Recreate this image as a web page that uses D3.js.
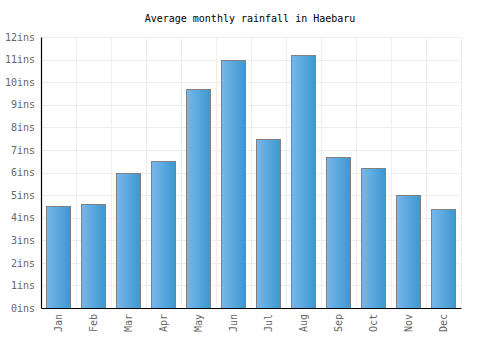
<!DOCTYPE html>
<html>
<head>
<meta charset="utf-8">
<script src="https://cdn.jsdelivr.net/npm/d3@7"></script>
<style>
  body { margin: 0; background: #fff; }
  text { font-family: "DejaVu Sans Mono", monospace; }
</style>
</head>
<body>
<div id="chart"></div>
<script>
const title = "Average monthly rainfall in Haebaru";
const months = ["Jan", "Feb", "Mar", "Apr", "May", "Jun", "Jul", "Aug", "Sep", "Oct", "Nov", "Dec"];
const rainfall = [4.5, 4.6, 6.0, 6.5, 9.7, 11.0, 7.5, 11.2, 6.7, 6.2, 5.0, 4.4];
const yTicks = [0, 1, 2, 3, 4, 5, 6, 7, 8, 9, 10, 11, 12];

const W = 500, H = 350;
const margin = { top: 37, right: 39, bottom: 42, left: 41 };
const width = W - margin.left - margin.right;
const height = H - margin.top - margin.bottom;

const svg = d3.select("#chart").append("svg")
  .attr("width", W).attr("height", H);

// bar gradient, lighter on the left
const grad = svg.append("defs").append("linearGradient")
  .attr("id", "barGrad").attr("x1", "0%").attr("x2", "100%");
grad.append("stop").attr("offset", "0%").attr("stop-color", "#78b7eb");
grad.append("stop").attr("offset", "100%").attr("stop-color", "#3b98d0");

svg.append("text")
  .attr("x", W / 2).attr("y", 22)
  .attr("text-anchor", "middle")
  .attr("font-size", "10px")
  .attr("fill", "#000")
  .text(title);

const g = svg.append("g").attr("transform", `translate(${margin.left},${margin.top})`);

const x = d3.scaleBand().domain(months).range([0, width]).paddingInner(0).paddingOuter(0);
const y = d3.scaleLinear().domain([0, 12]).range([height, 0]);

// grid
g.append("g").selectAll("line.h").data(yTicks).join("line")
  .attr("x1", 0).attr("x2", width)
  .attr("y1", d => Math.round(y(d)) + 0.5).attr("y2", d => Math.round(y(d)) + 0.5)
  .attr("stroke", "#eeeeee");
g.append("g").selectAll("line.v").data(months).join("line")
  .attr("x1", (d, i) => Math.round(x.bandwidth() * (i + 1)) + 0.5)
  .attr("x2", (d, i) => Math.round(x.bandwidth() * (i + 1)) + 0.5)
  .attr("y1", 0).attr("y2", height)
  .attr("stroke", "#eeeeee");

// bars
const barW = x.bandwidth() * 0.69;
g.selectAll("rect.bar").data(rainfall).join("rect")
  .attr("class", "bar")
  .attr("x", (d, i) => Math.round(x(months[i]) + (x.bandwidth() - barW) / 2) + 0.5)
  .attr("y", d => Math.round(y(d)) + 0.5)
  .attr("width", Math.round(barW))
  .attr("height", d => height - Math.round(y(d)))
  .attr("fill", "url(#barGrad)")
  .attr("stroke", "#808080")
  .attr("stroke-width", 1);

// y axis
const yAxis = g.append("g")
  .call(d3.axisLeft(y).tickValues(yTicks).tickSize(0).tickPadding(6).tickFormat(d => d + "ins"));
yAxis.select(".domain").attr("stroke", "#000").attr("stroke-width", 1.2);
yAxis.selectAll("text").attr("font-size", "10px").attr("fill", "#666")
  .attr("font-family", "DejaVu Sans Mono, monospace");

// x axis
const xAxis = g.append("g").attr("transform", `translate(0,${height})`)
  .call(d3.axisBottom(x).tickSize(0).tickPadding(6));
xAxis.select(".domain").attr("stroke", "#000").attr("stroke-width", 1.2);
xAxis.selectAll("text")
  .attr("font-size", "10px").attr("fill", "#666")
  .attr("font-family", "DejaVu Sans Mono, monospace")
  .attr("transform", "rotate(-90)")
  .attr("text-anchor", "end")
  .attr("dy", "0.32em")
  .attr("x", -6).attr("y", 0);
</script>
</body>
</html>
